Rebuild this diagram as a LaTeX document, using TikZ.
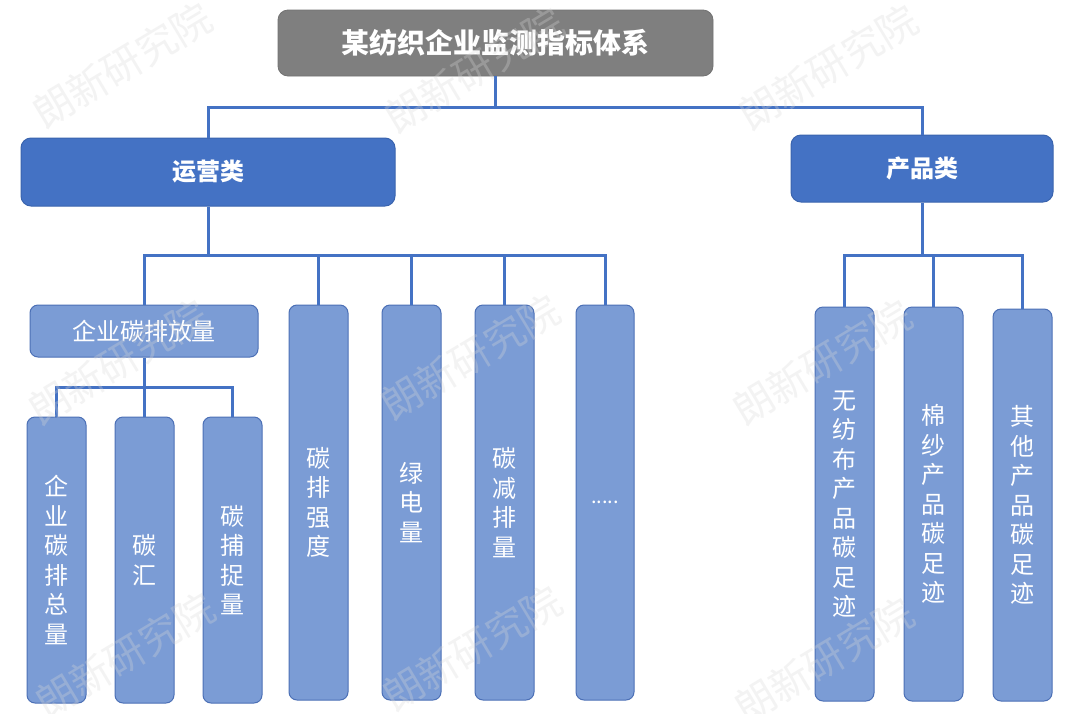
\documentclass[tikz,border=0pt]{standalone}
\usepackage{fontspec}
\setmainfont{Noto Sans CJK SC}
\usetikzlibrary{calc}
\definecolor{dkblue}{HTML}{4472C4}
\definecolor{dkborder}{HTML}{3A64AE}
\definecolor{ltblue}{HTML}{7B9CD5}
\definecolor{ltborder}{HTML}{4C70B6}
\definecolor{titlegray}{HTML}{7F7F7F}
\definecolor{wmgray}{HTML}{D8D8D8}
\tikzset{
  conn/.style={draw=dkblue, line width=3pt},
  titlebox/.style={fill=titlegray, draw=titlegray!90!black, line width=0.8pt, rounded corners=10pt, text=white, font=\fontsize{28}{32}\selectfont\bfseries, inner sep=0pt},
  catbox/.style={fill=dkblue, draw=dkborder, line width=1pt, rounded corners=10pt, text=white, font=\fontsize{24}{28}\selectfont\bfseries, inner sep=0pt},
  lbox/.style={fill=ltblue, draw=ltborder, line width=1pt, rounded corners=8pt, text=white, font=\fontsize{24}{29.5}\selectfont, align=center, inner sep=0pt},
  wm/.style={text=wmgray, opacity=0.3, rotate=31, font=\fontsize{40}{44}\selectfont, inner sep=0pt}
}
\begin{document}
\begin{tikzpicture}[x=1pt,y=-1pt]
\useasboundingbox (0,0) rectangle (1080,713);
\fill[white] (0,0) rectangle (1080,713);
% boxes
\node[titlebox, minimum width=435pt, minimum height=66pt] (title) at (495.5,43) {某纺织企业监测指标体系};
\node[catbox, minimum width=374pt, minimum height=68pt] (yy) at (208,172) {运营类};
\node[catbox, minimum width=262pt, minimum height=67pt] (cp) at (922,168.5) {产品类};
\node[lbox, minimum width=228pt, minimum height=52pt] (qypf) at (144,331) {企业碳排放量};
\node[lbox, minimum width=59pt, minimum height=286pt] (s1) at (56.5,560) {企\\业\\碳\\排\\总\\量};
\node[lbox, minimum width=59pt, minimum height=286pt] (s2) at (144.5,560) {碳\\汇};
\node[lbox, minimum width=59pt, minimum height=286pt] (s3) at (232.5,560) {碳\\捕\\捉\\量};
\node[lbox, minimum width=59pt, minimum height=395pt] (t1) at (318.5,502.5) {碳\\排\\强\\度};
\node[lbox, minimum width=59pt, minimum height=395pt] (t2) at (411.5,502.5) {绿\\电\\量};
\node[lbox, minimum width=59pt, minimum height=395pt] (t3) at (504.5,502.5) {碳\\减\\排\\量};
\node[lbox, minimum width=58pt, minimum height=395pt, font=\fontsize{20}{24}\selectfont] (t4) at (605,502.5) {.....};
\node[lbox, minimum width=59pt, minimum height=394pt] (p1) at (844.5,504) {无\\纺\\布\\产\\品\\碳\\足\\迹};
\node[lbox, minimum width=59pt, minimum height=394pt] (p2) at (933.5,504) {棉\\纱\\产\\品\\碳\\足\\迹};
\node[lbox, minimum width=59pt, minimum height=392pt] (p3) at (1022.5,505) {其\\他\\产\\品\\碳\\足\\迹};
% bus points
\coordinate (b1) at (496,107);
\coordinate (b2) at (208,255);
\coordinate (b3) at (144,387);
\coordinate (b4) at (922,255);
% connectors
\draw[conn] (title.south) -- (title.south |- b1);
\draw[conn] (yy.north) |- (b1) -| (cp.north);
\draw[conn] (yy.south) -- (b2);
\draw[conn] (qypf.north) |- (b2) -| (t4.north);
\draw[conn] (t1.north) -- (t1.north |- b2);
\draw[conn] (t2.north) -- (t2.north |- b2);
\draw[conn] (t3.north) -- (t3.north |- b2);
\draw[conn] (qypf.south) -- (qypf.south |- s2.north);
\draw[conn] (s1.north) |- (b3) -| (s3.north);
\draw[conn] (cp.south) -- (b4);
\draw[conn] (p1.north) |- (b4) -| (p3.north);
\draw[conn] (p2.north) -- (p2.north |- b4);
% watermark
\node[wm] (w1) at (122,65) {朗新研究院};
\node[wm] (w2) at (474,70) {朗新研究院};
\node[wm] (w3) at (828,67) {朗新研究院};
\node[wm] (w4) at (1180,67) {朗新研究院};
\node[wm] (w5) at (118,362) {朗新研究院};
\node[wm] (w6) at (470,357) {朗新研究院};
\node[wm] (w7) at (822,362) {朗新研究院};
\node[wm] (w8) at (1174,362) {朗新研究院};
\node[wm] (w9) at (125,655) {朗新研究院};
\node[wm] (w10) at (472,648) {朗新研究院};
\node[wm] (w11) at (824,660) {朗新研究院};
\end{tikzpicture}
\end{document}
